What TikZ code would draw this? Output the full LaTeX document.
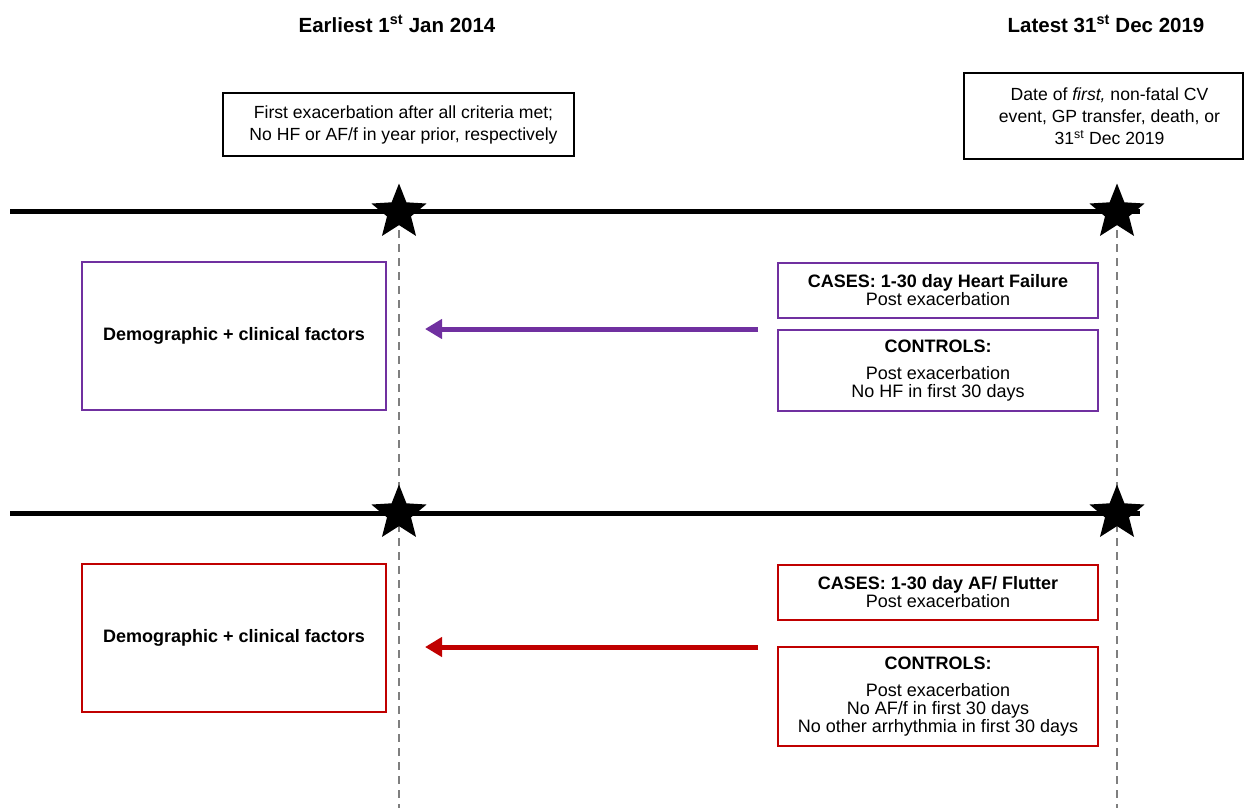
\documentclass[tikz,border=0pt]{standalone}
\usepackage{fontspec}
\setmainfont{Liberation Sans}
\usetikzlibrary{shapes.geometric,arrows.meta}
\definecolor{hfpurple}{HTML}{7030A0}
\definecolor{afred}{HTML}{C00000}
\definecolor{dashgray}{HTML}{7F7F7F}
\begin{document}
\begin{tikzpicture}[x=1pt,y=-1pt,
  title/.style={font=\fontsize{20.5}{24}\selectfont\bfseries, inner sep=0},
  infobox/.style={draw=black, line width=1.8pt, align=center, font=\fontsize{17.6}{22}\selectfont, inner sep=0},
  sidebox/.style={draw=#1, line width=1.8pt, align=center, inner sep=0, font=\fontsize{18}{18}\selectfont},
  timeline/.style={line width=5pt},
  starmark/.style={star, star points=5, star point ratio=2.3, fill=black, minimum size=58pt, inner sep=0},
  guide/.style={dashgray, line width=2pt, dash pattern=on 8pt off 6pt},
  flow/.style={draw=#1, line width=5pt, -{Triangle[length=17pt,width=19pt]}}
]
\useasboundingbox (0,0) rectangle (1244,808);
% titles
\node[title] (t1) at (397,24) {Earliest 1\textsuperscript{st} Jan 2014};
\node[title] (t2) at (1106,24) {Latest 31\textsuperscript{st} Dec 2019};
% info boxes
\node[infobox, minimum width=351pt, minimum height=63pt] (b1) at (398.5,124.5)
  {\hspace*{10pt}First exacerbation after all criteria met;\\\hspace*{10pt}No HF or AF/f in year prior, respectively};
\node[infobox, minimum width=279pt, minimum height=86pt] (b2) at (1103.5,116)
  {\hspace*{12pt}Date of \textit{first,} non-fatal CV\\\hspace*{12pt}event, GP transfer, death, or\\\hspace*{12pt}31\textsuperscript{st} Dec 2019};
% dashed guides
\coordinate (g1t) at (399,230);
\coordinate (g1b) at (399,808);
\coordinate (g2t) at (1117,230);
\coordinate (g2b) at (1117,808);
\draw[guide] (g1t) -- (g1b);
\draw[guide] (g2t) -- (g2b);
% timelines
\coordinate (l1a) at (10,211);
\coordinate (l1b) at (1140,211);
\coordinate (l2a) at (10,513);
\coordinate (l2b) at (1140,513);
\draw[timeline] (l1a) -- (l1b);
\draw[timeline] (l2a) -- (l2b);
\node[starmark] (s1) at (399,212.5) {};
\node[starmark] (s2) at (1117,212.5) {};
\node[starmark] (s3) at (399,513.5) {};
\node[starmark] (s4) at (1117,513.5) {};
% HF panel
\node[sidebox=hfpurple, minimum width=304pt, minimum height=148pt, font=\fontsize{18}{18}\selectfont\bfseries] (hfl) at (234,336)
  {Demographic + clinical factors};
\node[sidebox=hfpurple, minimum width=320pt, minimum height=55pt] (hfc) at (938,290.5)
  {\textbf{CASES: 1-30 day Heart Failure}\\Post exacerbation};
\node[sidebox=hfpurple, minimum width=320pt, minimum height=81pt] (hfk) at (938,370.5)
  {\textbf{CONTROLS:}\\[9pt]Post exacerbation\\No HF in first 30 days};
\coordinate (hfa) at (758,329);
\coordinate (hfb) at (425,329);
\draw[flow=hfpurple] (hfa) -- (hfb);
% AF panel
\node[sidebox=afred, minimum width=304pt, minimum height=148pt, font=\fontsize{18}{18}\selectfont\bfseries] (afl) at (234,638)
  {Demographic + clinical factors};
\node[sidebox=afred, minimum width=320pt, minimum height=55pt] (afc) at (938,592.5)
  {\textbf{CASES: 1-30 day AF/ Flutter}\\Post exacerbation};
\node[sidebox=afred, minimum width=320pt, minimum height=99pt] (afk) at (938,696.5)
  {\textbf{CONTROLS:}\\[9pt]Post exacerbation\\No AF/f in first 30 days\\No other arrhythmia in first 30 days};
\coordinate (afa) at (758,647);
\coordinate (afb) at (425,647);
\draw[flow=afred] (afa) -- (afb);
\end{tikzpicture}
\end{document}
